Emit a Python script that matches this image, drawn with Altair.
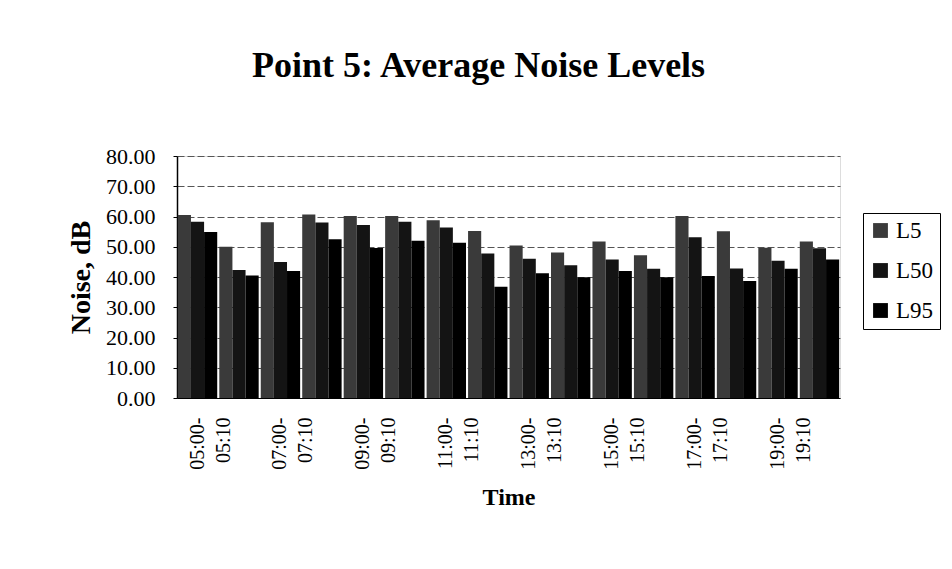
import altair as alt
import pandas as pd

categories = [f"{h:02d}:00-{h:02d}:10" for h in range(5, 21)]
series = ["L5", "L50", "L95"]
L5 = [60.5, 50.0, 58.1, 60.7, 60.2, 60.2, 58.8, 55.2, 50.4, 48.1, 51.7, 47.2, 60.2, 55.1, 49.7, 51.7]
L50 = [58.3, 42.3, 45.0, 58.0, 57.2, 58.3, 56.4, 47.8, 46.0, 43.9, 45.8, 42.7, 53.1, 42.8, 45.4, 49.5]
L95 = [54.9, 40.5, 42.0, 52.5, 49.6, 52.0, 51.3, 36.8, 41.2, 39.9, 42.0, 39.9, 40.3, 38.7, 42.7, 45.8]
colors = ["#3a3a3a", "#141414", "#000000"]

rows = []
for name, vals in zip(series, [L5, L50, L95]):
    for c, v in zip(categories, vals):
        rows.append({"Time": c, "Series": name, "Noise": v})
df = pd.DataFrame(rows)

SERIF = "Liberation Serif"

label_expr = ("toNumber(substring(datum.value,0,2)) % 2 == 1 ? "
              "[substring(datum.value,0,6), substring(datum.value,6)] : ''")

chart = alt.Chart(df).mark_bar().encode(
    x=alt.X("Time:N", sort=categories,
            scale=alt.Scale(paddingInner=0.05, paddingOuter=0.02),
            axis=alt.Axis(title="Time", labelAngle=-90, labelExpr=label_expr,
                          labelOverlap=False, labelFont=SERIF, labelFontSize=20,
                          labelColor="black", labelPadding=19, labelAlign="right",
                          labelBaseline="middle", labelLineHeight=26,
                          ticks=False, domainColor="black",
                          titleFont=SERIF, titleFontSize=24, titleFontWeight="bold",
                          titleColor="black", titlePadding=16)),
    xOffset=alt.XOffset("Series:N", sort=series, scale=alt.Scale(paddingInner=0, paddingOuter=0)),
    y=alt.Y("Noise:Q", scale=alt.Scale(domain=[0, 80], nice=False),
            axis=alt.Axis(title="Noise, dB", values=list(range(0, 81, 10)), format=".2f",
                          labelFont=SERIF, labelFontSize=22, labelColor="black",
                          labelPadding=18, tickSize=4, tickColor="black",
                          domainColor="black", domainWidth=1.5,
                          grid=True, gridColor="#555555", gridDash=[7, 3], gridWidth=1,
                          titleFont=SERIF, titleFontSize=28, titleFontWeight="bold",
                          titleColor="black", titlePadding=10)),
    color=alt.Color("Series:N", sort=series,
                    scale=alt.Scale(domain=series, range=colors),
                    legend=alt.Legend(title=None, orient="none", legendX=686, legendY=57,
                                      symbolType="square", symbolSize=220,
                                      symbolStrokeWidth=0,
                                      labelFont=SERIF, labelFontSize=23, labelColor="black",
                                      labelOffset=4,
                                      rowPadding=16, padding=6, strokeColor="black",
                                      fillColor="white")),
).properties(
    width=663, height=242,
    title=alt.TitleParams("Point 5: Average Noise Levels", font=SERIF, fontSize=36,
                          fontWeight="bold", color="black", dx=-30, offset=60),
    autosize=alt.AutoSizeParams(type="none"),
    padding={"left": 177, "top": 156, "right": 112, "bottom": 171},
).configure_view(stroke=None).configure(background="white")

chart.save("out.html", embed_options={"renderer": "svg", "actions": False})
